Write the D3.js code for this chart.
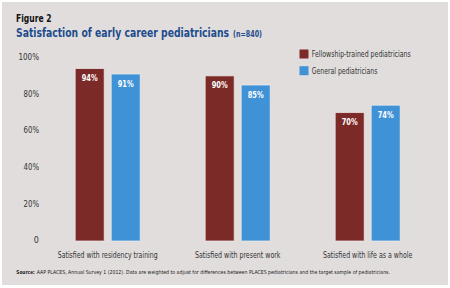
<!DOCTYPE html>
<html>
<head>
<meta charset="utf-8">
<script src="https://cdn.jsdelivr.net/npm/d3@7"></script>
<style>
  body { margin: 0; background: #fff; }
  svg text { font-family: "Liberation Sans Narrow", "DejaVu Sans Condensed", Arial, sans-serif; }
</style>
</head>
<body>
<div id="chart"></div>
<script>
// data
const categories = [
    'Satisfied with residency training',
    'Satisfied with present work',
    'Satisfied with life as a whole'
];
const seriesNames = ['Fellowship-trained pediatricians', 'General pediatricians'];
const fellowship = [94, 90, 70];
const general = [91, 85, 74];
const yTicks = [0, 20, 40, 60, 80, 100];
const yTickLabels = ['0', '20%', '40%', '60%', '80%', '100%'];

const colors = ['#7b2a27', '#3f92d6'];

// squeeze a text to the width it has in the print
const fit = (sel, w) => sel.attr('textLength', w).attr('lengthAdjust', 'spacingAndGlyphs');

drawBars();

function drawBars() {
    const width = 450;
    const height = 288;

    const svg = d3.select('#chart')
        .append('svg')
            .attr('width', width)
            .attr('height', height);

    // panel
    svg.append('rect')
        .attr('x', 2).attr('y', 2)
        .attr('width', 446).attr('height', 283)
        .attr('fill', '#e1dddd');

    // titles
    svg.append('text')
        .attr('x', 16).attr('y', 22.3)
        .attr('font-size', 10.5).attr('font-weight', 'bold')
        .attr('fill', '#111')
        .text('Figure 2')
        .call(fit, 35.5);
    const title = svg.append('text')
        .attr('x', 16).attr('y', 36.5)
        .attr('font-weight', 'bold')
        .attr('fill', '#1d4c8c');
    title.append('tspan')
        .attr('font-size', 12.5)
        .text('Satisfaction of early career pediatricians')
        .call(fit, 213);
    title.append('tspan')
        .attr('dx', 4)
        .attr('font-size', 8.5)
        .text('(n=840)')
        .call(fit, 29);

    // scales
    const x = d3.scaleBand()
        .domain(categories)
        .range([42.7, 432.7]);
    const x1 = d3.scaleBand()
        .domain(seriesNames)
        .range([-32.5, 32.5])
        .paddingInner(7 / 36);
    const y = d3.scaleLinear()
        .domain([0, 100])
        .range([241, 57.5]);

    // y axis
    const yx = g =>
        g
            .attr('transform', 'translate(39,-1)')
            .call(d3.axisLeft(y).tickValues(yTicks)
                .tickFormat((d, i) => yTickLabels[i])
                .tickSize(0).tickPadding(0))
            .call(g => g.select('.domain').remove())
            .call(g => g.selectAll('.tick text')
                .attr('font-family', null)
                .attr('font-size', null)
                .style('font-size', '9px')
                .attr('fill', '#333')
                .each(function(d, i) {
                    d3.select(this).call(fit, yTickLabels[i].length * 5.15);
                }));
    svg.append('g').call(yx);

    // x axis labels
    const catWidths = [100, 85.6, 89.3];
    svg.append('g')
        .selectAll('text')
        .data(categories)
        .join('text')
            .attr('x', d => x(d) + x.bandwidth() / 2)
            .attr('y', 258)
            .attr('text-anchor', 'middle')
            .attr('font-size', 9)
            .attr('fill', '#333')
            .text(d => d)
            .each(function(d, i) { d3.select(this).call(fit, catWidths[i]); });

    // bars
    const rows = categories.map((c, i) => ({
        cat: c,
        values: [
            {name: seriesNames[0], value: fellowship[i]},
            {name: seriesNames[1], value: general[i]}
        ]
    }));

    const groups = svg.append('g')
        .selectAll('g')
        .data(rows)
        .join('g')
            .attr('transform', d => `translate(${x(d.cat) + x.bandwidth() / 2},0)`);

    groups.selectAll('rect')
        .data(d => d.values)
        .join('rect')
            .attr('x', d => x1(d.name))
            .attr('y', d => y(d.value))
            .attr('width', x1.bandwidth())
            .attr('height', d => y(0) - y(d.value))
            .attr('fill', (d, i) => colors[i])
            .attr('stroke', '#f2eeee')
            .attr('stroke-opacity', 0.7)
            .attr('stroke-width', 1);

    groups.selectAll('text')
        .data(d => d.values)
        .join('text')
            .attr('x', d => x1(d.name) + x1.bandwidth() / 2)
            .attr('y', d => y(d.value) + 12.5)
            .attr('text-anchor', 'middle')
            .attr('font-size', 9.5)
            .attr('font-weight', 'bold')
            .attr('fill', '#fff')
            .text(d => d.value + '%')
            .call(fit, 16);

    // legend
    const legWidths = [99, 65.6];
    const legend = svg.append('g')
        .selectAll('g')
        .data(seriesNames)
        .join('g')
            .attr('transform', (d, i) => `translate(299.5,${49.5 + i * 16.7})`);
    legend.append('rect')
        .attr('width', 9).attr('height', 9)
        .attr('fill', (d, i) => colors[i]);
    legend.append('text')
        .attr('x', 12.3).attr('y', 7.6)
        .attr('font-size', 8.5)
        .attr('fill', '#333')
        .text(d => d)
        .each(function(d, i) { d3.select(this).call(fit, legWidths[i]); });

    // source
    const src = svg.append('text')
        .attr('x', 16.3).attr('y', 274.3)
        .attr('font-size', 5.4)
        .attr('fill', '#222');
    src.append('tspan')
        .attr('font-weight', 'bold')
        .text('Source:')
        .call(fit, 18.5);
    src.append('tspan')
        .attr('x', 36.7)
        .text('AAP PLACES, Annual Survey 1 (2012). Data are weighted to adjust for differences between PLACES pediatricians and the target sample of pediatricians.')
        .call(fit, 353.3);
}
</script>
</body>
</html>
